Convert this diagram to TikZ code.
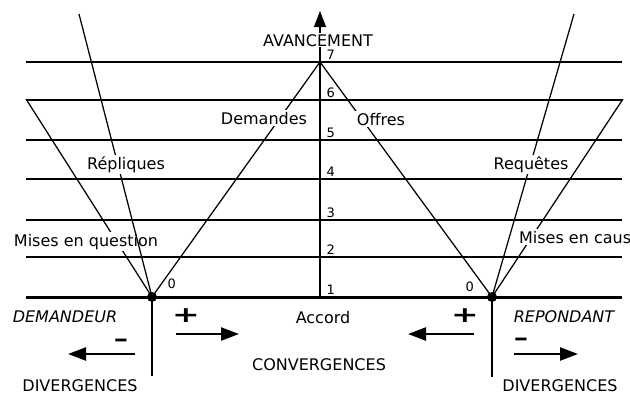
\documentclass[tikz,border=0pt]{standalone}
\usepackage{fontspec}
\setmainfont{DejaVu Sans}
\usetikzlibrary{arrows.meta}

\tikzset{
  lbl/.style={font=\fontsize{16}{19}\selectfont, inner sep=1.5pt, anchor=base},
  mask/.style={lbl, fill=white},
  num/.style={font=\fontsize{13}{15}\selectfont, inner sep=0pt, anchor=base west},
  sign/.style={font=\fontsize{22}{22}\selectfont\bfseries, inner sep=0pt},
  fleche/.style={line width=2.4pt, -{Triangle[length=18pt,width=13pt]}},
}

\begin{document}
\begin{tikzpicture}[x=1pt, y=-1pt, line width=1.25pt]
        \useasboundingbox (0,0) rectangle (630,394);
        \clip (0,0) rectangle (630,394);

        % Points de repere
        \coordinate (sommet) at (320,62);
        \coordinate (origine) at (320,297);
        \coordinate (axehaut) at (320,11);
        \coordinate (hautG) at (79,14);
        \coordinate (bordG) at (26,99);
        \coordinate (hautD) at (574,14);
        \coordinate (bordD) at (623,99);
        \coordinate (basG) at (152,376);
        \coordinate (basD) at (492,377);

        % Niveaux
        \foreach \yy in {62,100,140,179,220,257}
            \draw (26,\yy) -- (622,\yy);
        \draw[line width=3pt] (26,297) -- (622,297);

        % Axe d'avancement
        \draw[-{Triangle[length=16pt,width=12pt]}] (origine) -- (axehaut);
        \node[mask, text depth=0pt, inner sep=1pt] (avance) at (318,46) {AVANCEMENT};
        \foreach \n/\yy in {7/62,6/100,5/140,4/179,3/220,2/257,1/297}
            \node[num] (n\n) at (326,\yy-3) {\n};

        % Pivots
        \fill (152,297) circle (5pt) coordinate (pivG);
        \fill (492,297) circle (5pt) coordinate (pivD);
        \node[num] (zeroG) at (167,288) {0};
        \node[num] (zeroD) at (465,291) {0};

        % Trajectoires cote demandeur
        \draw (pivG) -- (sommet);
        \draw (pivG) -- (bordG);
        \node[mask] (demandes) at (264,124) {Demandes};
        \node[mask] (mises) at (86,246) {Mises en question};
        \draw (pivG) -- (hautG);
        \node[mask] (repliques) at (126,169) {Répliques};

        % Trajectoires cote repondant
        \draw (pivD) -- (sommet);
        \draw (pivD) -- (bordD);
        \draw (pivD) -- (hautD);
        \node[mask] (offres) at (381,125) {Offres};
        \node[mask] (requetes) at (531,169) {Requêtes};
        \node[mask, anchor=base west] (causes) at (517,243) {Mises en cause};

        % Partie basse
        \draw (pivG) -- (basG);
        \draw (pivD) -- (basD);
        \node[lbl, font=\fontsize{16}{19}\selectfont\itshape] (demandeur) at (65,322) {DEMANDEUR};
        \node[lbl, font=\fontsize{16}{19}\selectfont\itshape] (repondant) at (564,322) {REPONDANT};
        \node[lbl] (accord) at (323,323) {Accord};
        \node[lbl] (conv) at (319,370) {CONVERGENCES};
        \node[lbl] (divG) at (80,391) {DIVERGENCES};
        \node[lbl] (divD) at (560,391) {DIVERGENCES};

        % Signes et sens
        \node[sign] (plusG) at (186,316) {\scalebox{1.5}[1]{+}};
        \node[sign] (plusD) at (465,316) {\scalebox{1.5}[1]{+}};
        \node[sign] (moinsG) at (121,343) {\scalebox{1.3}[1]{–}};
        \node[sign] (moinsD) at (521,342) {\scalebox{1.3}[1]{–}};
        \coordinate (f1a) at (176,334); \coordinate (f1b) at (239,334);
        \coordinate (f2a) at (135,354); \coordinate (f2b) at (68,354);
        \coordinate (f3a) at (474,334); \coordinate (f3b) at (408,334);
        \coordinate (f4a) at (514,354); \coordinate (f4b) at (578,354);
        \draw[fleche] (f1a) -- (f1b);
        \draw[fleche] (f2a) -- (f2b);
        \draw[fleche] (f3a) -- (f3b);
        \draw[fleche] (f4a) -- (f4b);
\end{tikzpicture}
\end{document}
